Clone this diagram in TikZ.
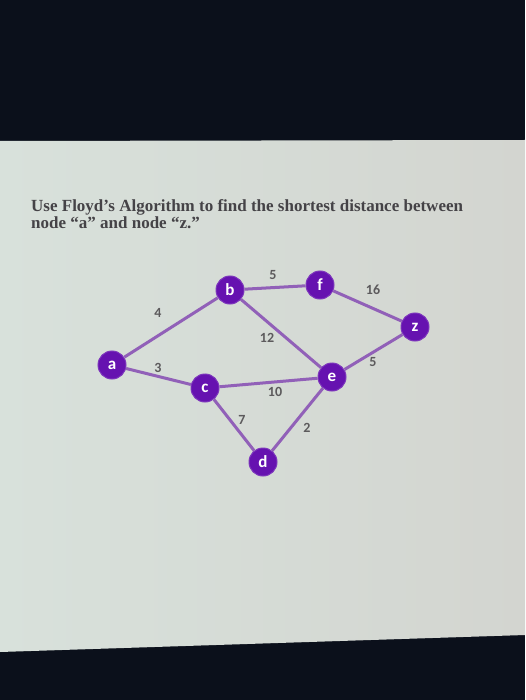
\documentclass[tikz,border=0pt]{standalone}
\usepackage{fontspec}
\setmainfont{Liberation Serif}
\newfontfamily\labfont{Carlito}
\definecolor{bgdark}{HTML}{0B101B}
\definecolor{panelL}{HTML}{D8E1DB}
\definecolor{panelM}{HTML}{E9E0E0}
\definecolor{panelR}{HTML}{D3D5D0}
\definecolor{nodepurple}{HTML}{6612B0}
\definecolor{edgepurple}{HTML}{9160B8}
\definecolor{labgray}{HTML}{5C5A5C}
\definecolor{titlegray}{HTML}{454347}
\tikzset{
  vtx/.style={circle, fill=nodepurple, draw=nodepurple!85!white, line width=1pt, minimum size=28pt, inner sep=0pt, text=white, font=\labfont\bfseries\fontsize{17}{17}\selectfont},
  edgeline/.style={draw=edgepurple, line width=3pt},
  wlab/.style={text=labgray, font=\labfont\bfseries\fontsize{14}{14}\selectfont, inner sep=0pt},
  titletext/.style={text=titlegray, font=\bfseries\fontsize{17}{17}\selectfont, inner sep=0pt, anchor=base west}
}
\begin{document}
\begin{tikzpicture}[x=1pt,y=-1pt]
\useasboundingbox (0,0) rectangle (525,700);
\fill[bgdark] (0,0) rectangle (525,700);
\shade[left color=panelL, middle color=panelM, right color=panelR] (0,141) -- (525,140) -- (525,635) -- (0,652) -- cycle;
% title
\node[titletext] (t1) at (31,212) {Use Floyd's Algorithm to find the shortest distance between};
\node[titletext] (t2) at (31,229) {node “a” and node “z.”};
% nodes
\node[vtx] (a) at (112,365) {a};
\node[vtx] (b) at (230,290) {b};
\node[vtx] (f) at (320,285) {f};
\node[vtx] (z) at (415,327) {z};
\node[vtx] (c) at (205,388) {c};
\node[vtx] (e) at (332,377) {e};
\node[vtx] (d) at (263,462) {d};
% edges
\path[edgeline] (a) -- (b);
\path[edgeline] (a) -- (c);
\path[edgeline] (b) -- (f);
\path[edgeline] (b) -- (e);
\path[edgeline] (f) -- (z);
\path[edgeline] (c) -- (e);
\path[edgeline] (c) -- (d);
\path[edgeline] (e) -- (z);
\path[edgeline] (e) -- (d);
% weights
\node[wlab] (w1) at (158,313) {4};
\node[wlab] (w2) at (158,368) {3};
\node[wlab] (w3) at (273,275) {5};
\node[wlab] (w4) at (373,290) {16};
\node[wlab] (w5) at (267,338) {12};
\node[wlab] (w6) at (373,362) {5};
\node[wlab] (w7) at (275,392) {10};
\node[wlab] (w8) at (242,420) {7};
\node[wlab] (w9) at (307,428) {2};
\end{tikzpicture}
\end{document}
